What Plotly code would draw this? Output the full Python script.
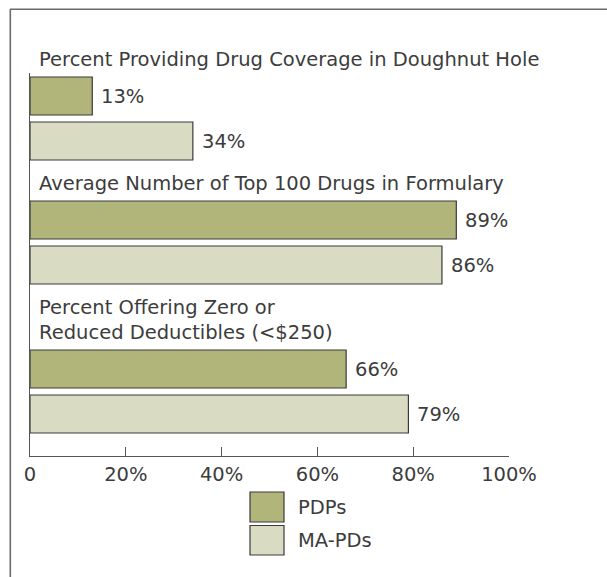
import plotly.graph_objects as go

# ---- data ----
categories = [
    "Percent Providing Drug Coverage in Doughnut Hole",
    "Average Number of Top 100 Drugs in Formulary",
    "Percent Offering Zero or<br>Reduced Deductibles (<$250)",
]
series_names = ["PDPs", "MA-PDs"]
pdp_values = [13, 89, 66]
mapd_values = [34, 86, 79]
tick_values = [0, 20, 40, 60, 80, 100]
tick_labels = ["0", "20%", "40%", "60%", "80%", "100%"]

# ---- style / layout ----
W, H = 607, 577
L, R, T, B = 30, 98, 73, 121
PW, PH = W - L - R, H - T - B
FONT = "DejaVu Sans, Liberation Sans, sans-serif"
TXT = "#3c3c3c"
colors = ["#b1b57a", "#d9dcc2"]
edge = "#3a3a3a"

def px(xp):
    return (xp - L) / PW

def py(yp):
    return (H - B - yp) / PH

# vertical layout in pixel-like units (y axis reversed)
bar_h = 38
pair_step = 45
first_top = 77
group_step = 124
extra_line = 25

tops = []
t = first_top
for i, c in enumerate(categories):
    tops.append(t)
    t += group_step + extra_line * (categories[i + 1].count("<br>") if i + 1 < len(categories) else 0)

series_vals = [pdp_values, mapd_values]
fig = go.Figure()
for s, (name, vals) in enumerate(zip(series_names, series_vals)):
    ys = [tp + bar_h / 2 + s * pair_step for tp in tops]
    fig.add_trace(go.Bar(
        x=vals, y=ys, orientation="h", name=name, width=bar_h,
        marker=dict(color=colors[s], line=dict(color=edge, width=1.2)),
        showlegend=False, hoverinfo="skip",
    ))

annotations = []
# value labels
for s, vals in enumerate(series_vals):
    for tp, v in zip(tops, vals):
        annotations.append(dict(
            x=v, y=tp + bar_h / 2 + s * pair_step, xref="x", yref="y",
            text=f"{v}%", showarrow=False, xanchor="left", yanchor="middle",
            xshift=7, font=dict(family=FONT, size=19.5, color=TXT),
        ))
# category titles
for tp, c in zip(tops, categories):
    annotations.append(dict(
        x=px(37), y=py(tp - 4), xref="paper", yref="paper", text=c, showarrow=False,
        xanchor="left", yanchor="bottom", align="left",
        font=dict(family=FONT, size=19.5, color=TXT),
    ))

shapes = [
    # frame: top and left lines
    dict(type="line", xref="paper", yref="paper", x0=px(10), x1=px(W + 2), y0=py(9.3), y1=py(9.3),
         line=dict(color="#6a6a6a", width=1.6)),
    dict(type="line", xref="paper", yref="paper", x0=px(10.3), x1=px(10.3), y0=py(9.3), y1=py(H + 2),
         line=dict(color="#6a6a6a", width=1.6)),
]
# legend
leg_x0, leg_x1 = 250, 284
leg_rows = [(492, 522), (525.5, 555)]
for s, name in enumerate(series_names):
    y0, y1 = leg_rows[s]
    shapes.append(dict(type="rect", xref="paper", yref="paper",
                       x0=px(leg_x0), x1=px(leg_x1), y0=py(y1), y1=py(y0),
                       fillcolor=colors[s], line=dict(color=edge, width=1.2)))
    annotations.append(dict(x=px(296), y=py((y0 + y1) / 2), xref="paper", yref="paper",
                            text=name, showarrow=False, xanchor="left", yanchor="middle",
                            font=dict(family=FONT, size=19.5, color=TXT)))

fig.update_layout(
    width=W, height=H, margin=dict(l=L, r=R, t=T, b=B),
    paper_bgcolor="white", plot_bgcolor="white",
    barmode="overlay", showlegend=False,
    annotations=annotations, shapes=shapes,
    xaxis=dict(range=[0, 100], tickvals=tick_values, ticktext=tick_labels,
               ticks="inside", ticklen=9, tickwidth=1.2, tickcolor="#555",
               showline=True, linecolor="#555", linewidth=1.3, showgrid=False,
               zeroline=False, tickfont=dict(family=FONT, size=19.5, color=TXT),
               fixedrange=True),
    yaxis=dict(range=[H - B, T], showticklabels=False, ticks="", showgrid=False,
               zeroline=False, showline=True, linecolor="#555", linewidth=1.3,
               fixedrange=True),
)
fig.write_html("out.html", config={"displayModeBar": False})
